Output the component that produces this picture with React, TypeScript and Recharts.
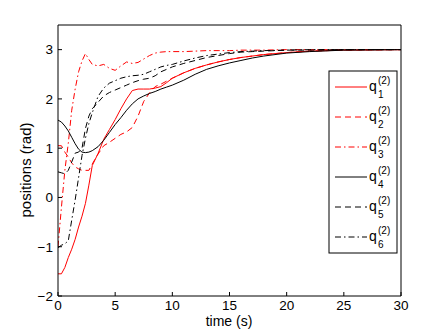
import React from "react";
import { LineChart, Line, XAxis, YAxis, Label } from "recharts";

const time = [0, 0.3, 0.6, 0.9, 1.2, 1.5, 1.8, 2.1, 2.4, 2.7, 3, 3.5, 4, 4.5, 5, 5.5, 6, 6.5, 7, 7.5, 8, 8.5, 9, 9.5, 10, 11, 12, 13, 14, 15, 16, 17, 18, 20, 22, 25, 30];

const q1 = [-1.55, -1.55, -1.42, -1.22, -1.05, -0.85, -0.6, -0.38, -0.12, 0.25, 0.65, 0.89, 1.18, 1.38, 1.58, 1.8, 2.0, 2.17, 2.2, 2.2, 2.2, 2.22, 2.25, 2.33, 2.42, 2.53, 2.62, 2.69, 2.75, 2.8, 2.84, 2.87, 2.9, 2.94, 2.97, 2.99, 3.0];
const q2 = [1.05, 1.05, 0.92, 0.82, 0.7, 0.62, 0.58, 0.55, 0.55, 0.55, 0.68, 0.88, 1.05, 1.12, 1.2, 1.28, 1.33, 1.42, 1.65, 1.95, 2.12, 2.25, 2.3, 2.36, 2.42, 2.53, 2.62, 2.69, 2.75, 2.8, 2.84, 2.87, 2.9, 2.94, 2.97, 2.99, 3.0];
const q3 = [-1.0, -0.2, 0.55, 1.1, 1.77, 2.2, 2.55, 2.77, 2.92, 2.8, 2.7, 2.67, 2.7, 2.62, 2.58, 2.67, 2.75, 2.72, 2.74, 2.81, 2.88, 2.93, 2.95, 2.96, 2.96, 2.96, 2.97, 2.98, 2.98, 2.98, 2.99, 2.99, 2.99, 3.0, 3.0, 3.0, 3.0];
const q4 = [1.57, 1.53, 1.45, 1.35, 1.22, 1.09, 0.98, 0.92, 0.91, 0.92, 0.95, 1.03, 1.16, 1.32, 1.48, 1.62, 1.77, 1.9, 2.0, 2.06, 2.11, 2.15, 2.2, 2.24, 2.28, 2.38, 2.5, 2.6, 2.67, 2.73, 2.78, 2.83, 2.87, 2.93, 2.96, 2.99, 3.0];
const q5 = [0.52, 0.5, 0.48, 0.55, 0.72, 0.9, 0.92, 1.0, 1.4, 1.65, 1.8, 1.93, 2.06, 2.13, 2.18, 2.23, 2.28, 2.33, 2.37, 2.4, 2.42, 2.47, 2.55, 2.6, 2.65, 2.72, 2.78, 2.84, 2.88, 2.92, 2.95, 2.96, 2.97, 2.99, 2.99, 3.0, 3.0];
const q6 = [-1.02, -0.97, -0.94, -0.88, -0.46, -0.05, 0.4, 0.85, 1.2, 1.5, 1.72, 2.05, 2.22, 2.32, 2.37, 2.42, 2.45, 2.47, 2.48, 2.5, 2.55, 2.6, 2.65, 2.68, 2.7, 2.77, 2.83, 2.88, 2.91, 2.94, 2.96, 2.97, 2.98, 2.99, 3.0, 3.0, 3.0];

const xTicks = [0, 5, 10, 15, 20, 25, 30];
const yTicks = [-2, -1, 0, 1, 2, 3];

const seriesValues: Record<string, number[]> = { q1, q2, q3, q4, q5, q6 };

const series = [
  { key: "q1", sub: "1", color: "#ff0000", dash: undefined as string | undefined },
  { key: "q2", sub: "2", color: "#ff0000", dash: "6 4" },
  { key: "q3", sub: "3", color: "#ff0000", dash: "6 3 1.5 3" },
  { key: "q4", sub: "4", color: "#000000", dash: undefined as string | undefined },
  { key: "q5", sub: "5", color: "#000000", dash: "6 4" },
  { key: "q6", sub: "6", color: "#000000", dash: "6 3 1.5 3" },
];

const data = time.map((t, i) => {
  const row: Record<string, number> = { t };
  for (const s of series) row[s.key] = seriesValues[s.key][i];
  return row;
});

const FONT = "'Liberation Sans', Arial, Helvetica, sans-serif";
const fmt = (v: number) => String(v).replace("-", "\u2212");

function LegendBox() {
  return (
    <svg
      width={70}
      height={184}
      style={{ position: "absolute", left: 328, top: 70 }}
    >
      <rect x={1} y={1} width={68} height={182} fill="#fff" stroke="#000" strokeWidth={1} />
      {series.map((s, i) => {
        const cy = 17 + i * 30;
        return (
          <g key={s.key}>
            <line x1={7} x2={39} y1={cy} y2={cy} stroke={s.color} strokeWidth={1} strokeDasharray={s.dash} />
            <text x={41} y={cy + 4} fontFamily={FONT} fontSize={14} fill="#000">q</text>
            <text x={50} y={cy - 3} fontFamily={FONT} fontSize={10} fill="#000">(2)</text>
            <text x={50} y={cy + 11} fontFamily={FONT} fontSize={10} fill="#000">{s.sub}</text>
          </g>
        );
      })}
    </svg>
  );
}

export default function App() {
  const tickStyle = { fontSize: 13.5, fill: "#000", fontFamily: FONT };
  return (
    <div style={{ position: "absolute", left: 0, top: 0, width: 443, height: 333, background: "#fff" }}>
      <LineChart width={443} height={333} data={data} margin={{ top: 24, right: 41, left: 0, bottom: 0 }}>
        <XAxis
          dataKey="t"
          type="number"
          domain={[0, 30]}
          ticks={xTicks}
          allowDataOverflow
          height={37}
          tickSize={-4}
          tickMargin={8}
          tick={tickStyle}
          stroke="#000"
          tickFormatter={fmt}
          label={
            <Label
              content={() => (
                <text x={229} y={326} textAnchor="middle" fontFamily={FONT} fontSize={14} fill="#000">
                  time (s)
                </text>
              )}
            />
          }
        />
        <XAxis
          xAxisId="top"
          dataKey="t"
          type="number"
          orientation="top"
          domain={[0, 30]}
          ticks={xTicks}
          allowDataOverflow
          height={1}
          tickSize={-4}
          tick={false}
          stroke="#000"
        />
        <YAxis
          type="number"
          domain={[-2, 3.5]}
          ticks={yTicks}
          allowDataOverflow
          width={58}
          tickSize={-4}
          tickMargin={9}
          tick={tickStyle}
          stroke="#000"
          tickFormatter={fmt}
          label={
            <Label
              content={() => (
                <text
                  x={31}
                  y={170}
                  transform="rotate(-90 31 170)"
                  textAnchor="middle"
                  fontFamily={FONT}
                  fontSize={15}
                  fill="#000"
                >
                  positions (rad)
                </text>
              )}
            />
          }
        />
        <YAxis
          yAxisId="right"
          orientation="right"
          type="number"
          domain={[-2, 3.5]}
          ticks={yTicks}
          allowDataOverflow
          width={1}
          tickSize={-4}
          tick={false}
          stroke="#000"
        />
        {series.map((s) => (
          <Line
            key={s.key}
            dataKey={s.key}
            type="linear"
            stroke={s.color}
            strokeWidth={1}
            strokeDasharray={s.dash}
            dot={false}
            activeDot={false}
            isAnimationActive={false}
          />
        ))}
      </LineChart>
      <LegendBox />
    </div>
  );
}
